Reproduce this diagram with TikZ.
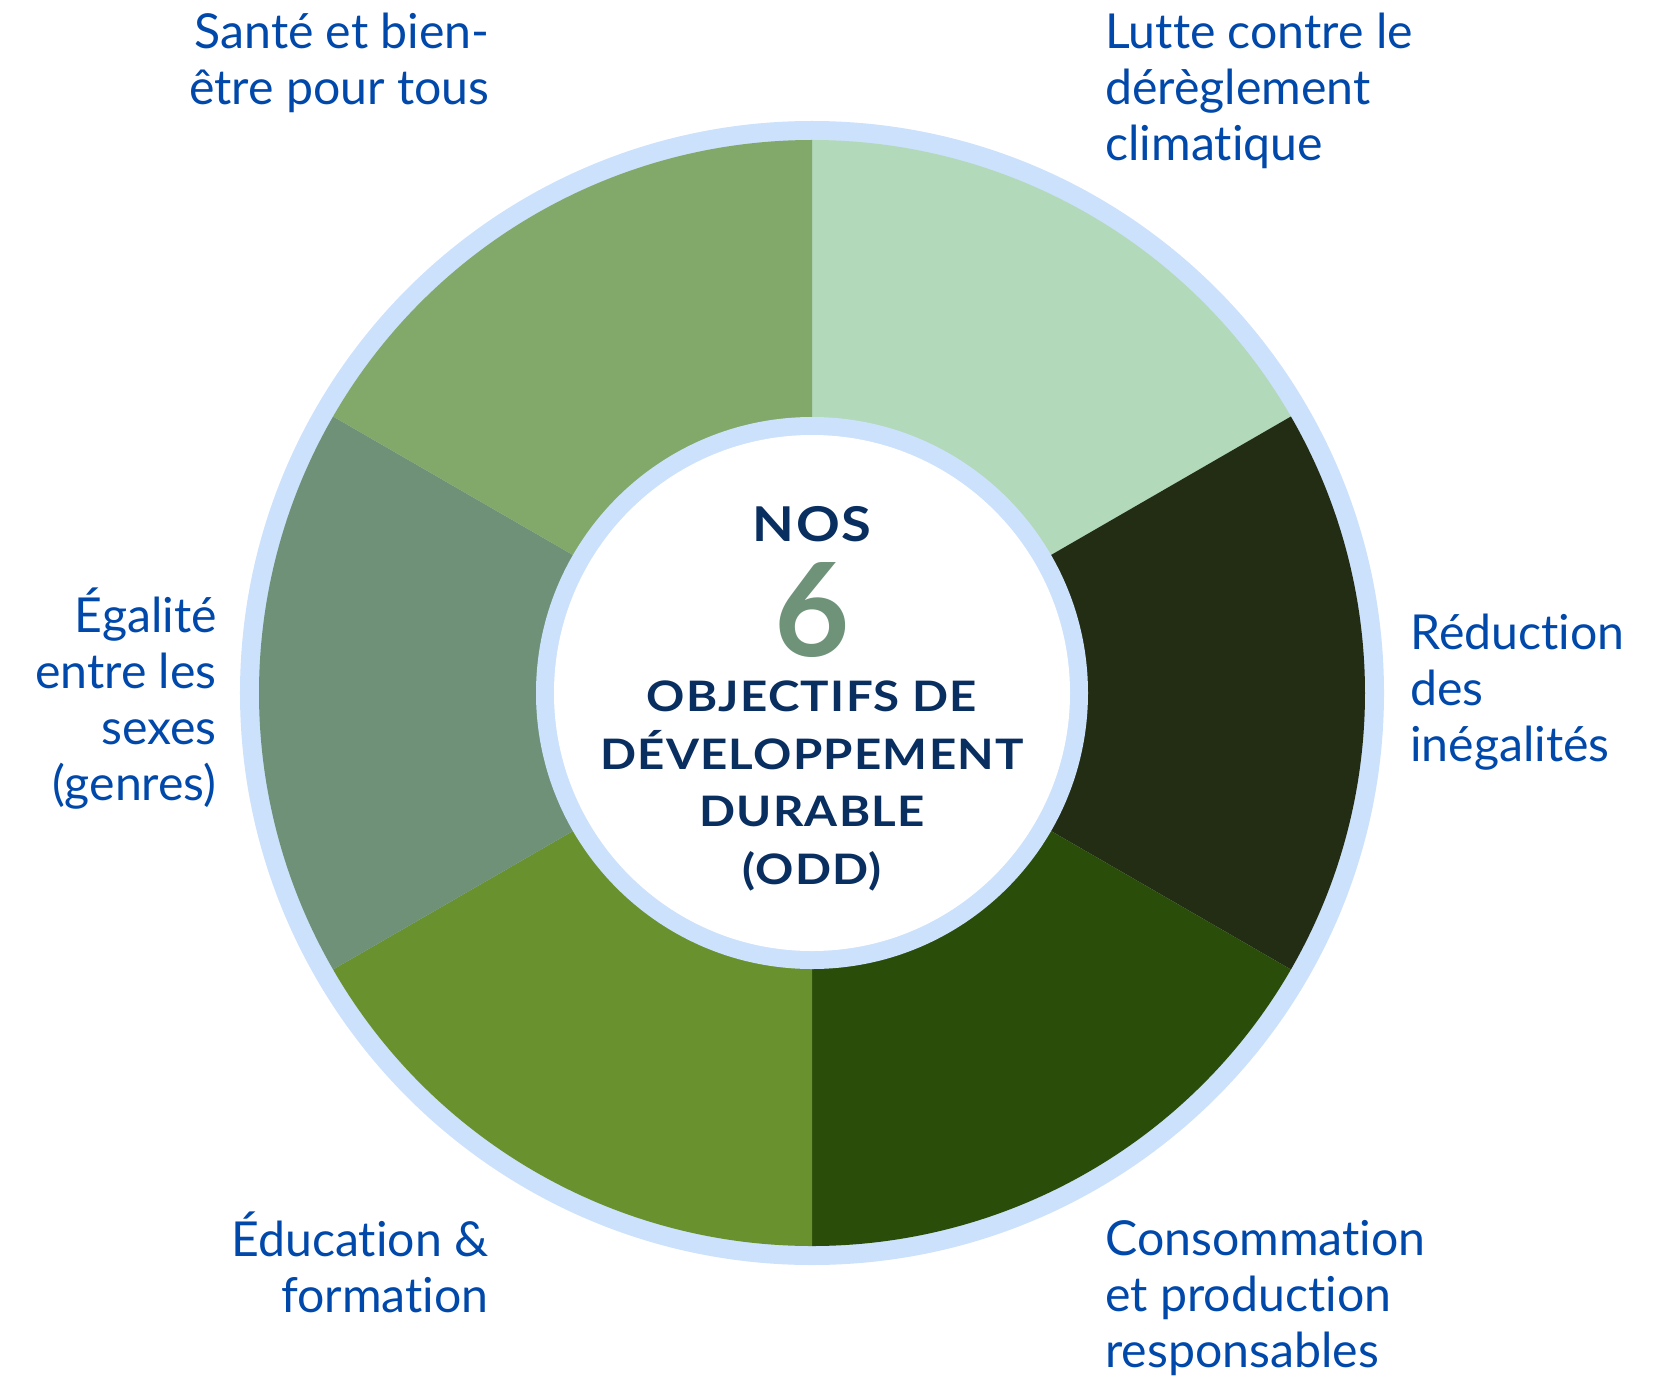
\documentclass[tikz,border=0pt]{standalone}
\usepackage{fontspec}
\setmainfont{Lato}[Ligatures=NoCommon]
\newfontfamily\oddfont{Lato}[FakeStretch=1.13, LetterSpace=3]

\definecolor{ringblue}{RGB}{204,225,252}
\definecolor{goalblue}{RGB}{0,72,170}
\definecolor{oddnavy}{RGB}{9,46,96}
\definecolor{segclimat}{RGB}{178,217,185}
\definecolor{seginegal}{RGB}{34,45,20}
\definecolor{segconso}{RGB}{43,77,10}
\definecolor{segeduc}{RGB}{105,145,45}
\definecolor{segegal}{RGB}{110,145,120}
\definecolor{segsante}{RGB}{130,168,106}
\definecolor{sixgreen}{RGB}{110,147,121}

\begin{document}
\begin{tikzpicture}[
        x=0.5pt, y=0.5pt,
        goal/.style={text=goalblue, inner sep=0pt, font=\fontsize{24.1pt}{28pt}\selectfont},
        goalleft/.style={goal, align=right, anchor=base east},
        goalright/.style={goal, align=left, anchor=base west},
        centre/.style={text=oddnavy, inner sep=0pt, anchor=base, align=center, font=\oddfont\bfseries\fontsize{21pt}{28.75pt}\selectfont}
    ]
    \useasboundingbox (-812,-684) rectangle (856,693);

    % outer ring and the six segments
    \fill[ringblue] (0,0) circle[radius=572];
    \foreach \a/\c in {30/segclimat, -30/seginegal, -90/segconso, -150/segeduc, 150/segegal, 90/segsante}
        \fill[\c] (0,0) -- (\a:553) arc[start angle=\a, delta angle=60, radius=553] -- cycle;
    \fill[ringblue] (0,0) circle[radius=276];
    \fill[white] (0,0) circle[radius=258];

    % centre (base anchor = last line)
    \node[centre, font=\oddfont\bfseries\fontsize{24pt}{28pt}\selectfont] (nos) at (0,152) {NOS};
    \node[centre, text=sixgreen, font=\bfseries\fontsize{65pt}{65pt}\selectfont] (six) at (0,37) {6};
    \node[centre] (odd) at (0,-191) {OBJECTIFS DE\\DÉVELOPPEMENT\\DURABLE\\(ODD)};

    % goals
    \node[goalleft] (sante) at (-322,588) {Santé et bien-\\être pour tous};
    \node[goalright] (climat) at (293,532) {Lutte contre le\\dérèglement\\climatique};
    \node[goalright] (inegal) at (598,-68) {Réduction\\des\\inégalités};
    \node[goalleft] (egal) at (-595,-107) {Égalité\\entre les\\sexes\\(genres)};
    \node[goalleft] (educ) at (-323,-619) {Éducation \&\\formation};
    \node[goalright] (conso) at (293,-674) {Consommation\\et production\\responsables};
\end{tikzpicture}
\end{document}
